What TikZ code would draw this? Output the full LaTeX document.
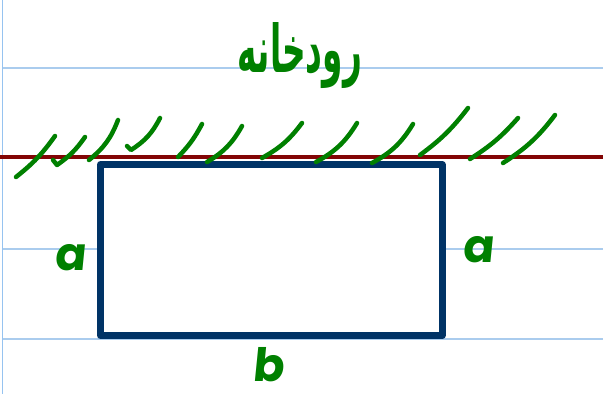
\documentclass[tikz,border=0pt]{standalone}
\usepackage{fontspec}
\usepackage{graphicx}
\TeXXeTstate=1
\newfontfamily\arabicfont[Script=Arabic]{DejaVu Sans}
\newfontfamily\letterfont{Poppins}
\definecolor{inkgreen}{RGB}{0,128,0}
\definecolor{rulerblue}{RGB}{170,204,238}
\definecolor{marginblue}{RGB}{150,195,240}
\definecolor{riverred}{RGB}{130,5,5}
\definecolor{boxnavy}{RGB}{0,51,102}
\begin{document}
\begin{tikzpicture}[x=1pt,y=-1pt,
  hatch/.style={inkgreen, line width=4.5pt, line cap=round, line join=round},
  ruled/.style={rulerblue, line width=1.3pt},
  handletter/.style={inkgreen, font=\letterfont\bfseries\fontsize{46}{46}\selectfont, inner sep=0pt, xslant=0.1}]
\useasboundingbox (0,0) rectangle (603,394);
\fill[white] (0,0) rectangle (603,394);
% ruled notebook lines
\foreach \yy in {68,157,249,339} \draw[ruled] (3,\yy) -- (603,\yy);
\draw[marginblue, line width=1.3pt] (2.5,0) -- (2.5,394);
% river bank
\draw[riverred, line width=4pt] (0,157) -- (603,157);
% rectangle
\draw[boxnavy, line width=7pt, fill=white, line join=round] (100.5,164.5) rectangle (442,335.5);
% hatch marks
\draw[hatch] (16,177) to[bend right=8] (55,136);
\draw[hatch] (53,160) -- (57,165) to[bend right=10] (85,137);
\draw[hatch] (89,160) to[bend right=15] (118,120);
\draw[hatch] (127,146) -- (131,150) to[bend right=15] (160,118);
\draw[hatch] (178,157) to[bend right=8] (202,124);
\draw[hatch] (207,162) to[bend right=15] (242,126);
\draw[hatch] (262,158) to[bend right=12] (302,123);
\draw[hatch] (316,162) to[bend right=15] (357,123);
\draw[hatch] (372,163) to[bend right=15] (413,124);
\draw[hatch] (420,155) to[bend right=8] (468,108);
\draw[hatch] (470,159) to[bend right=8] (518,118);
\draw[hatch] (503,163) to[bend right=10] (555,115);
% labels
\node[inkgreen, inner sep=0pt] (river) at (300,56) {\resizebox{124pt}{50pt}{\arabicfont\bfseries\beginR رودخانه\endR}};
\node[handletter] (aleft) at (71,258) {a};
\node[handletter] (aright) at (479,250) {a};
\node[handletter] (bbottom) at (270,365) {b};
\end{tikzpicture}
\end{document}
